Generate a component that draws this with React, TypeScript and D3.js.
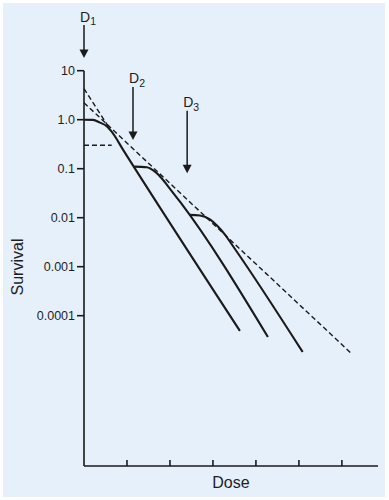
import React from "react";
import * as d3 from "d3";

const curve1Dose = [0, 0.209, 0.372, 0.528, 0.644, 0.914, 3.628];
const curve1Surv = [1.0, 0.99, 0.87, 0.74, 0.57, 0.24, 4.9e-5];
const curve2Dose = [1.17, 1.458, 1.651, 1.807, 1.96, 2.233, 4.279];
const curve2Surv = [0.11, 0.107, 0.087, 0.064, 0.043, 0.0212, 3.67e-5];
const curve3Dose = [2.449, 2.698, 2.93, 3.093, 3.256, 3.512, 5.086];
const curve3Surv = [0.0114, 0.0111, 0.0092, 0.0069, 0.0048, 0.0023, 1.82e-5];

const steepDashDose = [0, 0.62];
const steepDashSurv = [4.3, 0.615];
const shallowDashDose = [0, 6.21];
const shallowDashSurv = [2.22, 1.73e-5];
const flatDashDose = [0, 0.644];
const flatDashSurv = [0.3, 0.3];

const yTickValues = [10, 1, 0.1, 0.01, 0.001, 0.0001];
const yTickLabels = ["10", "1.0", "0.1", "0.01", "0.001", "0.0001"];
const xTickValues = [1, 2, 3, 4, 5, 6];

const arrowDose = [0, 1.14, 2.4];
const arrowTopSurv = [85.6, 4.65, 1.53];
const arrowTipSurv = [18.2, 0.385, 0.0805];
const arrowSub = ["1", "2", "3"];

export default function App() {
  const W = 389;
  const H = 500;
  const x = d3.scaleLinear().domain([0, 6.84]).range([84, 378]);
  const y = d3.scaleLog().domain([1e-4, 10]).range([315.7, 70.7]);
  const axisY = 466;
  const ink = "#1a1a1a";
  const txt = "#1e1e1e";
  const font = "Liberation Sans, Arial, Helvetica, sans-serif";

  const line = d3
    .line<[number, number]>()
    .x((d) => x(d[0]))
    .y((d) => y(d[1]))
    .curve(d3.curveMonotoneX);
  const straight = d3
    .line<[number, number]>()
    .x((d) => x(d[0]))
    .y((d) => y(d[1]));

  const zip = (a: number[], b: number[]) => a.map((v, i) => [v, b[i]] as [number, number]);

  const curves = [
    zip(curve1Dose, curve1Surv),
    zip(curve2Dose, curve2Surv),
    zip(curve3Dose, curve3Surv),
  ];
  const dashes = [
    zip(steepDashDose, steepDashSurv),
    zip(shallowDashDose, shallowDashSurv),
    zip(flatDashDose, flatDashSurv),
  ];

  return (
    <svg
      width={W}
      height={H}
      style={{ position: "absolute", left: 0, top: 0 }}
      fontFamily={font}
    >
      <rect x={3} y={3} width={382} height={494} fill="#e6f0fa" />
      {/* axes */}
      <line x1={x(0)} x2={x(0)} y1={y(10)} y2={axisY} stroke={ink} strokeWidth={1.6} />
      <line x1={x(0)} x2={x(6.84)} y1={axisY} y2={axisY} stroke={ink} strokeWidth={1.6} />
      {yTickValues.map((v, i) => (
        <g key={"yt" + i}>
          <line x1={x(0) - 7} x2={x(0)} y1={y(v)} y2={y(v)} stroke={ink} strokeWidth={1.6} />
          <text x={x(0) - 9} y={y(v) + 4.5} textAnchor="end" fontSize={12.5} fill={txt}>
            {yTickLabels[i]}
          </text>
        </g>
      ))}
      {xTickValues.map((v, i) => (
        <line key={"xt" + i} x1={x(v)} x2={x(v)} y1={axisY} y2={axisY - 6} stroke={ink} strokeWidth={1.6} />
      ))}
      {/* dashed lines */}
      {dashes.map((d, i) => (
        <path
          key={"d" + i}
          d={straight(d) || ""}
          fill="none"
          stroke={ink}
          strokeWidth={1.4}
          strokeDasharray="5,3"
        />
      ))}
      {/* survival curves */}
      {curves.map((c, i) => (
        <path key={"c" + i} d={line(c) || ""} fill="none" stroke={ink} strokeWidth={2.1} />
      ))}
      {/* dose arrows */}
      {arrowDose.map((dv, i) => {
        const ax = x(dv);
        const top = y(arrowTopSurv[i]);
        const tip = y(arrowTipSurv[i]);
        return (
          <g key={"a" + i}>
            <line x1={ax} x2={ax} y1={top} y2={tip - 7} stroke={ink} strokeWidth={1.5} />
            <path d={`M${ax - 4.5},${tip - 8.5} L${ax + 4.5},${tip - 8.5} L${ax},${tip} Z`} fill={ink} />
            <text x={ax - 4} y={top - 3.5} fontSize={14} fill={txt}>
              D
              <tspan fontSize={10.5} dy={3.5}>
                {arrowSub[i]}
              </tspan>
            </text>
          </g>
        );
      })}
      {/* axis titles */}
      <text x={(x(0) + x(6.84)) / 2} y={488} textAnchor="middle" fontSize={16} fill={txt}>
        Dose
      </text>
      <text
        transform={`translate(22.5,267) rotate(-90)`}
        textAnchor="middle"
        fontSize={16}
        fill={txt}
      >
        Survival
      </text>
    </svg>
  );
}
